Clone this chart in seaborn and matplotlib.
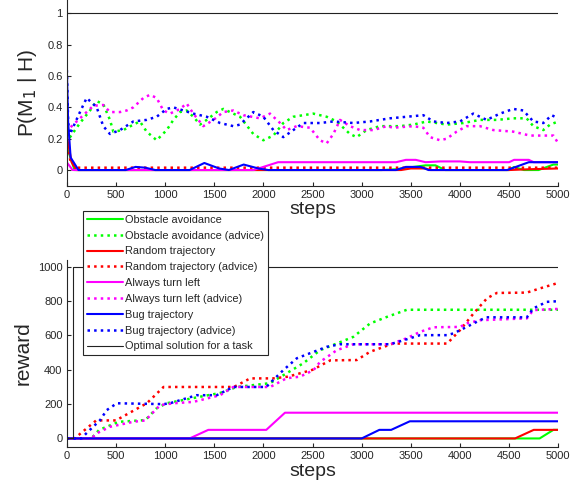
"""Model probability P(M1|H) and accumulated reward over steps for four
controllers, with and without advice, plus the optimal solution."""

import matplotlib
matplotlib.use("Agg")
import matplotlib.pyplot as plt
import seaborn as sns

# ---- top panel: P(M1 | H) ----
p_obs_adv_steps = [0, 34, 135, 237, 305, 372, 440, 474, 576, 678, 745, 813, 915, 1017, 1085, 1153,
                   1220, 1288, 1356, 1424, 1526, 1593, 1661, 1763, 1898, 2000, 2102, 2203, 2305,
                   2508, 2644, 2746, 2881, 2949, 3050, 3186, 3390, 3526, 3662, 3763, 3865, 4034,
                   4203, 4373, 4542, 4678, 4746, 4848, 4916, 5000]
p_obs_adv = [0.25, 0.21, 0.30, 0.38, 0.44, 0.42, 0.32, 0.245, 0.255, 0.29, 0.31, 0.245, 0.19,
             0.255, 0.32, 0.37, 0.38, 0.34, 0.29, 0.32, 0.37, 0.39, 0.37, 0.34, 0.23, 0.19,
             0.22, 0.30, 0.34, 0.36, 0.34, 0.31, 0.23, 0.21, 0.255, 0.28, 0.28, 0.29, 0.31,
             0.30, 0.29, 0.30, 0.32, 0.32, 0.33, 0.33, 0.28, 0.255, 0.29, 0.31]

p_left_adv_steps = [0, 34, 118, 203, 271, 372, 440, 542, 610, 678, 780, 847, 915, 983, 1050, 1153,
                    1220, 1288, 1390, 1492, 1593, 1695, 1797, 1966, 2068, 2170, 2237, 2339, 2475,
                    2576, 2644, 2712, 2780, 2881, 2983, 3118, 3255, 3322, 3526, 3627, 3695, 3797,
                    3865, 3966, 4068, 4203, 4339, 4542, 4712, 4882, 4950, 5000]
p_left_adv = [0.30, 0.27, 0.32, 0.37, 0.41, 0.415, 0.37, 0.37, 0.38, 0.40, 0.46, 0.48, 0.46,
              0.38, 0.36, 0.39, 0.425, 0.36, 0.28, 0.32, 0.37, 0.38, 0.35, 0.33, 0.36, 0.30,
              0.255, 0.28, 0.27, 0.19, 0.17, 0.23, 0.32, 0.28, 0.255, 0.255, 0.28, 0.27, 0.28,
              0.27, 0.21, 0.19, 0.20, 0.245, 0.28, 0.28, 0.255, 0.245, 0.22, 0.22, 0.22, 0.17]

p_bug_adv_steps = [0, 15, 34, 135, 203, 305, 372, 440, 542, 678, 813, 915, 1017, 1085, 1186, 1288,
                   1424, 1560, 1695, 1763, 1898, 2000, 2102, 2203, 2305, 2406, 2576, 2712, 2915,
                   3085, 3288, 3458, 3627, 3730, 3865, 4000, 4135, 4271, 4407, 4542, 4644, 4746,
                   4848, 4932, 5000]
p_bug_adv = [0.68, 0.30, 0.23, 0.37, 0.46, 0.40, 0.28, 0.23, 0.255, 0.31, 0.32, 0.34, 0.39,
             0.40, 0.38, 0.36, 0.34, 0.30, 0.28, 0.29, 0.37, 0.34, 0.255, 0.21, 0.255, 0.30,
             0.30, 0.31, 0.30, 0.31, 0.33, 0.34, 0.35, 0.31, 0.30, 0.31, 0.36, 0.32, 0.36,
             0.39, 0.38, 0.31, 0.30, 0.35, 0.33]

p_rand_adv_steps = [0, 40, 100, 5000]
p_rand_adv = [0.20, 0.05, 0.015, 0.015]

p_obs_steps = [0, 80, 3200, 3350, 3650, 3750, 3850, 4500, 4550, 4650, 4800, 4950, 5000]
p_obs = [0.15, 0.0, 0.0, 0.005, 0.03, 0.03, 0.0, 0.0, 0.02, 0.0, 0.0, 0.035, 0.035]

p_rand_steps = [0, 50, 100, 3400, 3500, 3650, 3700, 4500, 4700, 5000]
p_rand = [0.22, 0.05, 0.0, 0.0, 0.01, 0.01, 0.0, 0.0, 0.005, 0.01]

p_left_steps = [0, 60, 1900, 2150, 3350, 3450, 3550, 3650, 3800, 4000, 4100, 4500, 4550, 4700,
                4750, 5000]
p_left = [0.05, 0.0, 0.0, 0.05, 0.05, 0.065, 0.065, 0.05, 0.055, 0.055, 0.05, 0.05, 0.065,
          0.065, 0.05, 0.05]

p_bug_steps = [0, 15, 40, 80, 120, 600, 700, 800, 900, 1250, 1400, 1550, 1650, 1800, 1950, 2050,
               3350, 3450, 3600, 3680, 4480, 4700, 5000]
p_bug = [0.68, 0.30, 0.08, 0.04, 0.0, 0.0, 0.02, 0.015, 0.0, 0.0, 0.045, 0.01, 0.0, 0.035,
         0.01, 0.0, 0.0, 0.02, 0.02, 0.0, 0.0, 0.05, 0.05]

p_opt_steps = [0, 5000]
p_opt = [1, 1]

# ---- bottom panel: reward ----
r_obs_adv_steps = [0, 250, 330, 530, 800, 915, 1017, 1356, 1560, 1730, 2067, 2237, 2406, 2576,
                   2915, 3085, 3255, 3460, 5000]
r_obs_adv = [0, 0, 50, 97, 107, 176, 205, 243, 265, 300, 322, 380, 438, 514, 592, 670, 708,
             750, 750]

r_rand_adv_steps = [0, 80, 300, 500, 815, 985, 1700, 1866, 2100, 2250, 2500, 2680, 2950, 3085,
                    3320, 3870, 4000, 4140, 4275, 4375, 4680, 4816, 4985, 5000]
r_rand_adv = [0, 0, 105, 105, 205, 300, 300, 350, 350, 360, 400, 455, 457, 505, 553, 553, 631,
              730, 817, 848, 850, 875, 904, 905]

r_left_adv_steps = [0, 250, 307, 441, 678, 800, 950, 1085, 1288, 1560, 1695, 2070, 2237, 2373,
                    2510, 2577, 2746, 2915, 3290, 3458, 3594, 3730, 4000, 4068, 4203, 4680, 4746,
                    4882, 5000]
r_left_adv = [0, 0, 30, 68, 97, 105, 194, 205, 213, 252, 300, 300, 351, 360, 398, 446, 514,
              549, 549, 584, 621, 648, 650, 671, 689, 700, 748, 752, 755]

r_bug_adv_steps = [0, 150, 200, 340, 407, 510, 985, 1050, 1322, 1526, 1695, 2030, 2067, 2203,
                   2340, 2476, 2645, 2780, 3290, 3424, 3594, 3865, 3933, 4068, 4203, 4270, 4680,
                   4746, 4882, 5000]
r_bug_adv = [0, 0, 30, 107, 165, 205, 200, 205, 252, 252, 300, 300, 322, 398, 467, 497, 534,
             549, 549, 572, 602, 602, 612, 650, 689, 706, 706, 758, 796, 800]

r_obs_steps = [0, 4810, 4950, 5000]
r_obs = [0, 0, 50, 50]

r_rand_steps = [0, 4560, 4750, 5000]
r_rand = [0, 0, 50, 50]

r_left_steps = [0, 1250, 1440, 2030, 2220, 5000]
r_left = [0, 0, 50, 50, 150, 150]

r_bug_steps = [0, 3000, 3180, 3300, 3490, 5000]
r_bug = [0, 0, 50, 50, 100, 100]

r_opt_steps = [0, 60, 60, 5000]
r_opt = [0, 0, 1000, 1000]

labels = [
    "Obstacle avoidance",
    "Obstacle avoidance (advice)",
    "Random trajectory",
    "Random trajectory (advice)",
    "Always turn left",
    "Always turn left (advice)",
    "Bug trajectory",
    "Bug trajectory (advice)",
    "Optimal solution for a task",
]

sns.set_style("white")
plt.rcParams["font.family"] = ["Liberation Sans", "DejaVu Sans"]

GREEN, RED, MAGENTA, BLUE = "#00ff00", "#ff0000", "#ff00ff", "#0000ff"
AXCOL = "#262626"

fig = plt.figure(figsize=(5.77, 4.84), dpi=100)
ax1 = fig.add_axes([0.1156, 0.6163, 0.852, 0.3837])
ax2 = fig.add_axes([0.1156, 0.0764, 0.852, 0.3864])


def draw(ax, series):
    for (x, y), color, ls, lw, label in series:
        sns.lineplot(x=x, y=y, ax=ax, color=color, linestyle=ls, lw=lw,
                     estimator=None, sort=False, label=label, legend=False)


top = [
    ((p_obs_steps, p_obs), GREEN, "-", 1.5, labels[0]),
    ((p_obs_adv_steps, p_obs_adv), GREEN, ":", 1.8, labels[1]),
    ((p_rand_steps, p_rand), RED, "-", 1.5, labels[2]),
    ((p_rand_adv_steps, p_rand_adv), RED, ":", 1.8, labels[3]),
    ((p_left_steps, p_left), MAGENTA, "-", 1.5, labels[4]),
    ((p_left_adv_steps, p_left_adv), MAGENTA, ":", 1.8, labels[5]),
    ((p_bug_steps, p_bug), BLUE, "-", 1.5, labels[6]),
    ((p_bug_adv_steps, p_bug_adv), BLUE, ":", 1.8, labels[7]),
    ((p_opt_steps, p_opt), "#222222", "-", 0.8, labels[8]),
]
bottom = [
    ((r_obs_steps, r_obs), GREEN, "-", 1.5, labels[0]),
    ((r_obs_adv_steps, r_obs_adv), GREEN, ":", 1.8, labels[1]),
    ((r_rand_steps, r_rand), RED, "-", 1.5, labels[2]),
    ((r_rand_adv_steps, r_rand_adv), RED, ":", 1.8, labels[3]),
    ((r_left_steps, r_left), MAGENTA, "-", 1.5, labels[4]),
    ((r_left_adv_steps, r_left_adv), MAGENTA, ":", 1.8, labels[5]),
    ((r_bug_steps, r_bug), BLUE, "-", 1.5, labels[6]),
    ((r_bug_adv_steps, r_bug_adv), BLUE, ":", 1.8, labels[7]),
    ((r_opt_steps, r_opt), "#222222", "-", 0.8, labels[8]),
]
draw(ax1, top)
draw(ax2, bottom)

for ax in (ax1, ax2):
    ax.set_xlim(0, 5000)
    ax.set_xticks(range(0, 5001, 500))
    sns.despine(ax=ax)
    for side in ("left", "bottom"):
        ax.spines[side].set_color(AXCOL)
        ax.spines[side].set_linewidth(0.8)
    ax.tick_params(direction="in", length=3, width=0.8, colors=AXCOL,
                   labelsize=8, pad=3, left=True, bottom=True)
    ax.set_xlabel("steps", fontsize=14, labelpad=1)

ax1.set_ylim(-0.1, 1.085)
ax1.set_yticks([0, 0.2, 0.4, 0.6, 0.8, 1])
ax1.set_yticklabels(["0", "0.2", "0.4", "0.6", "0.8", "1"])
ax1.set_ylabel(r"P(M$_1$ | H)", fontsize=15, labelpad=6)

ax2.set_ylim(-50, 1040)
ax2.set_yticks(range(0, 1001, 200))
ax2.set_ylabel("reward", fontsize=15, labelpad=4)

handles, _ = ax2.get_legend_handles_labels()
leg = ax2.legend(handles, labels, loc="upper left",
                 bbox_to_anchor=(83 / 577, 1 - 211 / 484),
                 bbox_transform=fig.transFigure, fontsize=7.9, frameon=True,
                 fancybox=False, framealpha=1, edgecolor=AXCOL,
                 handlelength=3.3, handletextpad=0.2, labelspacing=0.53,
                 borderpad=0.35, borderaxespad=0)
leg.get_frame().set_linewidth(0.8)
leg.set_zorder(10)

fig.savefig("out.png", dpi=100)
plt.close(fig)
